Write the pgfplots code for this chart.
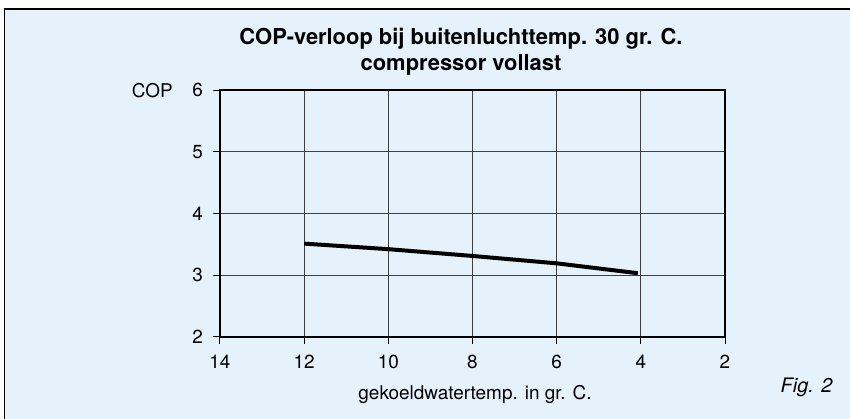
\documentclass[border=0pt]{standalone}
\usepackage{pgfplots}
\pgfplotsset{compat=1.18}
\usepackage{fontspec}
\setmainfont{TeX Gyre Heros}
\definecolor{bgblue}{HTML}{E5F1FB}
\definecolor{gridgray}{HTML}{404040}
\begin{document}
\begin{tikzpicture}[x=1bp,y=1bp]
\useasboundingbox (0,0) rectangle (850,-418);
\fill[bgblue] (4.5,-9) rectangle (852,-420);
\draw[line width=1.2bp, black] (4.5,-420) -- (4.5,-9) -- (852,-9);
\begin{axis}[
  at={(220bp,-336.7bp)}, anchor=south west,
  scale only axis, width=505bp, height=246.6bp,
  xmin=2, xmax=14, ymin=2, ymax=6,
  x dir=reverse,
  xtick={2,4,...,14}, ytick={2,3,4,5,6},
  axis line style={line width=2bp, black},
  tick align=outside, major tick length=7bp,
  tick style={line width=1bp, black},
  xtick pos=bottom, ytick pos=left,
  grid=major, major grid style={line width=1bp, gridgray},
  /pgf/number format/assume math mode=true,
  tick label style={font=\fontsize{19}{22}\selectfont},
  yticklabel style={inner sep=0pt, xshift=-10bp},
  xticklabel style={inner sep=0pt, yshift=-11bp},
  axis background/.style={fill=bgblue},
  clip=false,
]
\addplot[line width=4bp, black, line cap=butt, line join=round] coordinates {
  (12,3.51) (10,3.42) (8,3.31) (6,3.19) (4.07,3.03)
};
\end{axis}
\node[anchor=base, font=\fontsize{22}{26}\selectfont\bfseries] at (461,-44.5) {COP-verloop bij buitenluchttemp. 30 gr. C.};
\node[anchor=base, font=\fontsize{22}{26}\selectfont\bfseries] at (461,-70) {compressor vollast};
\node[anchor=base west, font=\fontsize{19}{22}\selectfont, inner sep=0pt] at (131.7,-97.7) {COP};
\node[anchor=base, font=\fontsize{19}{22}\selectfont, inner sep=0pt] at (475,-399) {gekoeldwatertemp. in gr. C.};
\node[anchor=base west, font=\fontsize{20}{24}\selectfont\itshape, inner sep=0pt] at (780.5,-392) {Fig. 2};
\end{tikzpicture}
\end{document}
